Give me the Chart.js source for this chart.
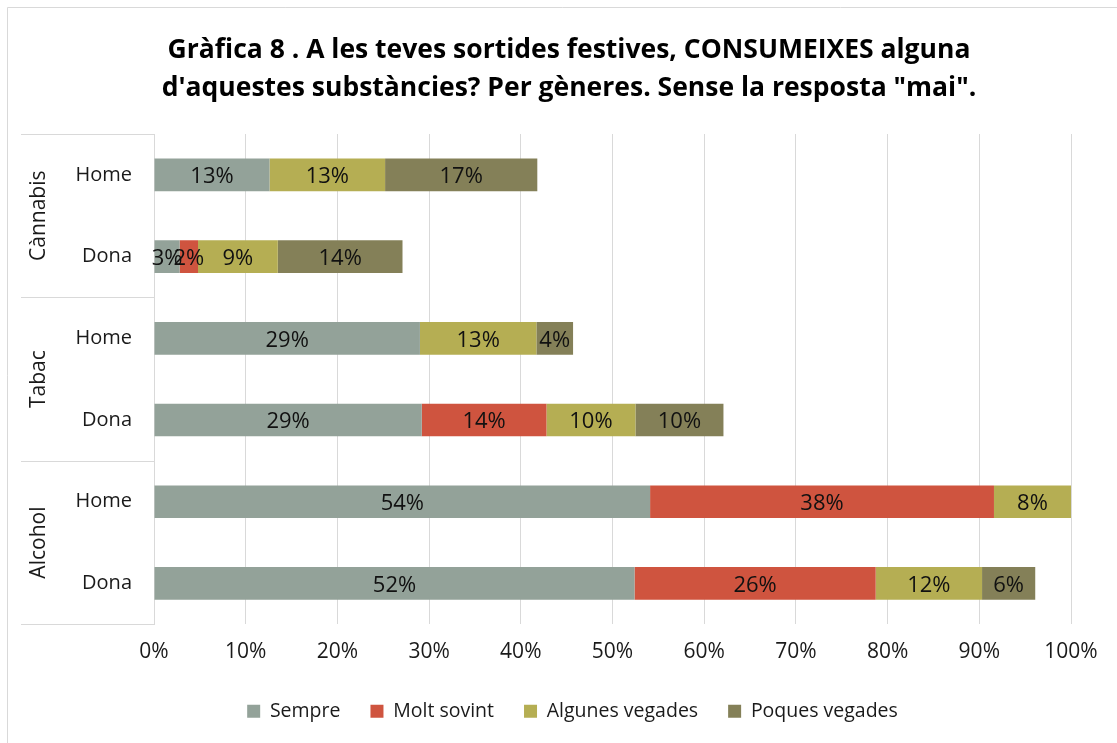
<!DOCTYPE html>
<html>
<head>
<meta charset="utf-8">
<script src="https://cdn.jsdelivr.net/npm/chart.js@4.4.1/dist/chart.umd.min.js"></script>
<style>
  html, body { margin: 0; padding: 0; background: #fff; }
  #wrap { width: 1117px; height: 743px; position: relative; }
</style>
</head>
<body>
<div id="wrap"><canvas id="chart"></canvas></div>
<script>
// rows, top to bottom
const categories = ['Home', 'Dona', 'Home', 'Dona', 'Home', 'Dona'];
const groups = ['Cànnabis', 'Tabac', 'Alcohol'];
const seriesNames = ['Sempre', 'Molt sovint', 'Algunes vegades', 'Poques vegades'];

// percentages
const sempre         = [12.6, 2.8, 29.0, 29.2, 54.1, 52.4];
const moltSovint     = [0,    2.0, 0,    13.6, 37.5, 26.3];
const algunesVegades = [12.6, 8.7, 12.7, 9.7,  8.4,  11.6];
const poquesVegades  = [16.6, 13.6, 4.0, 9.6,  0,    5.8];

const xTicks = [0, 10, 20, 30, 40, 50, 60, 70, 80, 90, 100];

const colors = ['#93a299', '#cf543f', '#b5ae53', '#848058'];
const FONT = '"Open Sans", "Noto Sans", sans-serif';
const LEGEND_PAD = 30;

// white background, outer frame, title
const framePlugin = {
    id: 'frame',
    beforeDraw(chart) {
        const ctx = chart.ctx;
        ctx.save();
        ctx.fillStyle = '#fff';
        ctx.fillRect(0, 0, chart.width, chart.height);
        ctx.strokeStyle = '#d9d9d9';
        ctx.lineWidth = 1;
        ctx.beginPath();
        ctx.moveTo(7.5, chart.height + 2);
        ctx.lineTo(7.5, 7.5);
        ctx.lineTo(chart.width + 2, 7.5);
        ctx.stroke();

        ctx.fillStyle = '#000';
        ctx.font = 'bold 26.5px ' + FONT;
        ctx.textAlign = 'center';
        ctx.textBaseline = 'middle';
        ctx.fillText('Gràfica 8 . A les teves sortides festives, CONSUMEIXES alguna', 569, 50);
        ctx.fillText('d\'aquestes substàncies? Per gèneres. Sense la resposta "mai".', 569, 88);
        ctx.restore();
    },
    // legend in the original sits centred on the whole frame, not on the padded box
    afterLayout(chart) {
        chart.legend.left += 37;
        chart.legend.right += 37;
    }
};

// group labels and separators on the category axis
const groupAxisPlugin = {
    id: 'groupAxis',
    afterDraw(chart) {
        const ctx = chart.ctx;
        const y = chart.scales.y;
        const left = 21;
        const right = chart.chartArea.left;
        const half = (y.getPixelForValue(1) - y.getPixelForValue(0)) / 2;
        ctx.save();
        ctx.strokeStyle = '#d9d9d9';
        ctx.lineWidth = 1;
        const bounds = [];
        for (let g = 0; g <= groups.length; g++) {
            const idx = g * 2;
            const py = idx < categories.length
                ? y.getPixelForValue(idx) - half
                : y.getPixelForValue(idx - 1) + half;
            bounds.push(py);
            ctx.beginPath();
            ctx.moveTo(left, Math.round(py) + 0.5);
            ctx.lineTo(right, Math.round(py) + 0.5);
            ctx.stroke();
        }
        ctx.fillStyle = '#1a1a1a';
        ctx.font = '21px ' + FONT;
        ctx.textAlign = 'center';
        ctx.textBaseline = 'middle';
        groups.forEach((name, g) => {
            const cy = (bounds[g] + bounds[g + 1]) / 2;
            ctx.save();
            ctx.translate(39, cy);
            ctx.rotate(-Math.PI / 2);
            ctx.fillText(name, 0, 0);
            ctx.restore();
        });
        ctx.restore();
    }
};

// value labels in the middle of each segment
const valueLabelPlugin = {
    id: 'valueLabels',
    afterDatasetsDraw(chart) {
        const ctx = chart.ctx;
        ctx.save();
        ctx.fillStyle = '#111';
        ctx.font = '22px ' + FONT;
        ctx.textAlign = 'center';
        ctx.textBaseline = 'middle';
        chart.data.datasets.forEach((ds, di) => {
            const meta = chart.getDatasetMeta(di);
            meta.data.forEach((bar, i) => {
                const v = ds.data[i];
                if (!v) return;
                ctx.fillText(Math.round(v) + '%', (bar.x + bar.base) / 2, bar.y + 2);
            });
        });
        ctx.restore();
    }
};

const seriesData = [sempre, moltSovint, algunesVegades, poquesVegades];

new Chart(document.getElementById('chart'), {
    type: 'bar',
    data: {
        labels: categories,
        datasets: seriesNames.map((name, i) => ({
            label: name,
            data: seriesData[i],
            backgroundColor: colors[i],
            borderWidth: 0,
            categoryPercentage: 1,
            barPercentage: 0.4
        }))
    },
    options: {
        indexAxis: 'y',
        responsive: true,
        maintainAspectRatio: false,
        animation: false,
        layout: {
            padding: { top: 134, right: 46, bottom: 12, left: 0 }
        },
        scales: {
            x: {
                stacked: true,
                min: 0,
                max: 100,
                afterBuildTicks(scale) {
                    scale.ticks = xTicks.map(v => ({ value: v }));
                },
                // legend padding is wider than default, give the room back here
                afterFit(scale) { scale.height -= (LEGEND_PAD - 22); },
                grid: {
                    color: '#d9d9d9',
                    drawTicks: false
                },
                border: { display: false },
                ticks: {
                    padding: 15,
                    color: '#1a1a1a',
                    font: { family: FONT, size: 21 },
                    callback: v => v + '%'
                }
            },
            y: {
                stacked: true,
                afterFit(scale) { scale.width = 154; },
                grid: { display: false, drawTicks: false },
                border: { display: true, color: '#d9d9d9', width: 1 },
                ticks: {
                    padding: 22,
                    color: '#1a1a1a',
                    font: { family: FONT, size: 20 }
                }
            }
        },
        plugins: {
            legend: {
                display: true,
                position: 'bottom',
                labels: {
                    boxWidth: 13,
                    boxHeight: 13,
                    padding: LEGEND_PAD,
                    color: '#1a1a1a',
                    font: { family: FONT, size: 19.5 }
                }
            },
            tooltip: { enabled: false },
            title: { display: false }
        }
    },
    plugins: [framePlugin, groupAxisPlugin, valueLabelPlugin]
});
</script>
</body>
</html>
